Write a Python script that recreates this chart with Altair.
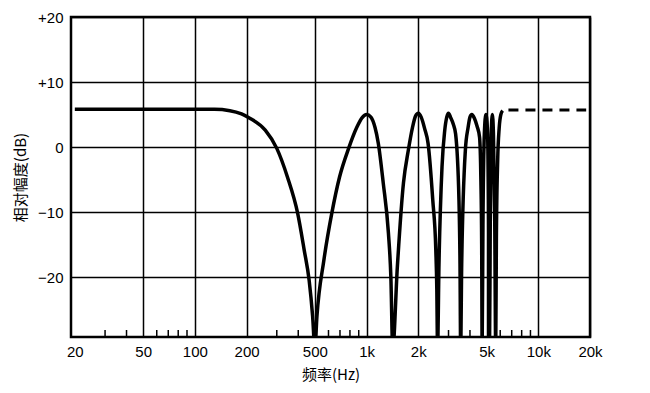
import altair as alt
import pandas as pd

# Solid response curve (frequency in Hz, relative amplitude in dB)
freq = [20, 100, 130, 160, 187, 210, 257, 300, 346, 397, 433, 463, 485, 500,
        514, 564, 627, 696, 786, 876, 940, 1000, 1060, 1120, 1170, 1250, 1340, 1385, 1420,
        1510, 1640, 1750, 1850, 1930, 2000, 2080, 2180, 2280, 2430, 2530, 2565, 2590,
        2640, 2750, 2850, 2930, 3000, 3080, 3200, 3300, 3450, 3500, 3530,
        3580, 3760, 3900, 4000, 4100, 4250, 4400, 4550, 4630, 4680, 4710,
        4760, 4850, 4950, 5050, 5130, 5200,
        5250, 5320, 5400, 5480, 5570, 5650,
        5700, 5800, 5920, 6050, 6200]
db = [5.8, 5.8, 5.8, 5.6, 5.1, 4.4, 2.6, -0.2, -4.6, -10.2, -15.8, -20.5, -26, -31,
      -26, -17.4, -10.2, -4.6, -0.2, 3.0, 4.5, 5.0, 4.6, 3.0, 0.6, -5.5, -13.2, -20, -31,
      -18.5, -5.5, -0.5, 3.0, 4.8, 5.2, 4.6, 2.8, 0.6, -8.2, -15.8, -22, -31,
      -18, -3, 2.5, 4.6, 5.2, 4.6, 3.5, 2.0, -8, -18, -31,
      -18, -0.5, 3.0, 4.6, 5.0, 4.4, 3.2, 1.5, -5, -15, -31,
      -12, 2, 5, 3, -8, -31,
      -12, 2, 5, 2, -10, -31,
      -14, -2, 3, 5, 5.6]

# Dashed extension
dash_freq = [6700, 19000]
dash_db = [5.7, 5.7]

# Axis values
x_ticks = [20, 50, 100, 200, 500, 1000, 2000, 5000, 10000, 20000]
y_ticks = [-20, -10, 0, 10, 20]
minor_ticks = [30, 40, 60, 70, 80, 90, 300, 400, 600, 700, 800, 900,
               3000, 4000, 6000, 7000, 8000, 9000]

curve = pd.DataFrame({"f": freq, "db": db})
dashed = pd.DataFrame({"f": dash_freq, "db": dash_db})
minors = pd.DataFrame({"f": minor_ticks})

xscale = alt.Scale(type="log", domain=[19, 20000], nice=False)
yscale = alt.Scale(domain=[-29.2, 20], nice=False, zero=False)

font = "Liberation Sans"
cjk = "Noto Sans CJK SC"

xaxis = alt.Axis(values=x_ticks, format="~s", title="频率(Hz)", grid=True,
                 gridColor="black", gridWidth=1.5,
                 gridOpacity={"condition": {"test": "datum.value <= 20", "value": 0}, "value": 1},
                 ticks=False, domain=False, labelFont=font, labelFontSize=15,
                 labelColor="black", labelPadding=7, labelFlush=False,
                 titleFont=cjk, titleFontSize=15, titleFontWeight="normal",
                 titleColor="black", titlePadding=8)
yaxis = alt.Axis(values=y_ticks, title="相对幅度(dB)", grid=True,
                 gridColor="black", gridWidth=1.5, gridOpacity=1,
                 ticks=False, domain=False, labelFont=font, labelFontSize=15,
                 labelColor="black", labelPadding=8,
                 labelExpr="datum.value > 0 ? '+' + datum.label : datum.label",
                 titleFont=cjk, titleFontSize=15, titleFontWeight="normal",
                 titleColor="black", titlePadding=9)

line = alt.Chart(curve).mark_line(color="black", strokeWidth=3.5, clip=True,
                                  interpolate="monotone").encode(
    x=alt.X("f:Q", scale=xscale, axis=xaxis),
    y=alt.Y("db:Q", scale=yscale, axis=yaxis),
)

dash = alt.Chart(dashed).mark_line(color="black", strokeWidth=3, strokeDash=[10, 7]).encode(
    x=alt.X("f:Q", scale=xscale, axis=xaxis),
    y=alt.Y("db:Q", scale=yscale, axis=yaxis),
)

ticks = alt.Chart(minors).mark_rule(color="black", strokeWidth=1.5).encode(
    x=alt.X("f:Q", scale=xscale, axis=xaxis),
    y=alt.value(320),
    y2=alt.value(313),
)

chart = alt.layer(line, dash, ticks).properties(
    width=519, height=320,
    autosize=alt.AutoSizeParams(type="none"),
    padding={"left": 63, "top": 9, "right": 52, "bottom": 48},
    background="white",
).configure_view(stroke="black", strokeWidth=2.5)

chart.save("out.html", embed_options={"renderer": "svg", "actions": False})
